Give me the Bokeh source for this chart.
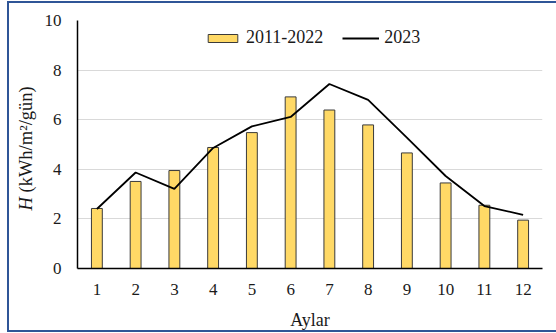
import math
from bokeh.plotting import figure
from bokeh.models import (Label, Legend, LegendItem, Range1d, FactorRange,
                          InlineStyleSheet)
from bokeh.embed import file_html
from bokeh.resources import INLINE

# Monthly global solar radiation
months = ["1", "2", "3", "4", "5", "6", "7", "8", "9", "10", "11", "12"]
h_2011_2022 = [2.42, 3.51, 3.95, 4.88, 5.48, 6.92, 6.39, 5.79, 4.66, 3.45, 2.55, 1.95]
h_2023 = [2.40, 3.87, 3.21, 4.86, 5.73, 6.11, 7.44, 6.80, 5.28, 3.73, 2.52, 2.16]
y_ticks = [0, 2, 4, 6, 8, 10]

FONT = "Liberation Serif"
TEXT = "#1a1a1a"

p = figure(
    width=556, height=333,
    x_range=FactorRange(factors=months, range_padding=0),
    y_range=Range1d(0, 10),
    output_backend="svg", toolbar_location=None,
    min_border_left=77, min_border_right=14,
    min_border_top=20, min_border_bottom=65,
)
p.outline_line_color = None
p.background_fill_color = "white"
p.border_fill_color = "white"

bars = p.vbar(x=months, top=h_2011_2022, width=0.28,
              fill_color="#FFD966", line_color="#3a3a3a", line_width=1)
line = p.line(x=months, y=h_2023, line_color="black", line_width=1.8)

p.xgrid.grid_line_color = None
p.ygrid.grid_line_color = "#d9d9d9"
p.yaxis.ticker = y_ticks

p.axis.axis_line_color = "black"
p.axis.axis_line_width = 1.5
p.axis.major_tick_line_color = None
p.axis.minor_tick_line_color = None
p.axis.major_tick_out = 0
p.axis.major_tick_in = 0
p.axis.major_label_text_font = FONT
p.axis.major_label_text_font_size = "17px"
p.axis.major_label_text_color = TEXT

p.yaxis.major_label_standoff = 16
p.xaxis.major_label_standoff = 15
p.xaxis.axis_label = "Aylar"
p.xaxis.axis_label_text_font = FONT
p.xaxis.axis_label_text_font_size = "18px"
p.xaxis.axis_label_text_font_style = "normal"
p.xaxis.axis_label_text_color = TEXT
p.xaxis.axis_label_standoff = 12

# y-axis title (canvas coordinates): italic H followed by the unit
p.add_layout(Label(x=25, y=210, x_units="canvas", y_units="canvas",
                   text="H", angle=math.pi / 2, text_align="left",
                   text_baseline="middle", text_font=FONT,
                   text_font_size="18.5px", text_font_style="italic",
                   text_color=TEXT), "left")
p.add_layout(Label(x=25, y=192, x_units="canvas", y_units="canvas",
                   text="(kWh/m²/gün)", angle=math.pi / 2, text_align="left",
                   text_baseline="middle", text_font=FONT,
                   text_font_size="18.5px", text_color=TEXT), "left")

legend = Legend(
    items=[LegendItem(label="2011-2022", renderers=[bars]),
           LegendItem(label="2023", renderers=[line])],
    orientation="horizontal", location=(127, 220),
    glyph_width=37, glyph_height=10, label_standoff=5, spacing=19,
    padding=0, margin=0, border_line_color=None, background_fill_alpha=0,
    label_text_font=FONT, label_text_font_size="18px",
    label_text_color=TEXT,
)
p.add_layout(legend, "center")

# chart border (left, top and bottom edges)
p.stylesheets = [InlineStyleSheet(css="""
:host { position: relative; }
:host::after {
  content: "";
  position: absolute;
  left: 7px; top: 1px;
  width: 547px; height: 327px;
  border: 2px solid #2F5597;
  border-right: none;
  pointer-events: none;
}
""")]

open("out.html", "w").write(file_html(p, INLINE))
